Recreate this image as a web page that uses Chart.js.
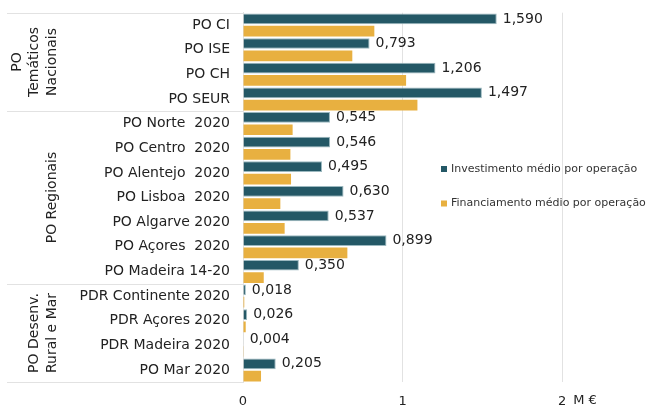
<!DOCTYPE html>
<html><head><meta charset="utf-8">
<script src="https://cdn.jsdelivr.net/npm/chart.js@4.4.1/dist/chart.umd.min.js"></script>
<style>html,body{margin:0;padding:0;background:#fff}#wrap{width:656px;height:406px}</style>
</head><body><div id="wrap"><canvas id="c" width="656" height="406"></canvas></div>
<script>
const categories = ["PO CI","PO ISE","PO CH","PO SEUR","PO Norte  2020","PO Centro  2020","PO Alentejo  2020","PO Lisboa  2020","PO Algarve 2020","PO Açores  2020","PO Madeira 14-20","PDR Continente 2020","PDR Açores 2020","PDR Madeira 2020","PO Mar 2020"];
const investimento = [1.590,0.793,1.206,1.497,0.545,0.546,0.495,0.630,0.537,0.899,0.350,0.018,0.026,0.004,0.205];
const financiamento = [0.823,0.685,1.022,1.093,0.311,0.297,0.301,0.234,0.261,0.654,0.130,0.008,0.017,0.002,0.113];
const seriesNames = ["Investimento médio por operação","Financiamento médio por operação"];
const groups = [
  {lines:["PO","Temáticos","Nacionais"], from:0, to:3},
  {lines:["PO Regionais"], from:4, to:10},
  {lines:["PO Desenv.","Rural e Mar"], from:11, to:14}
];
const xTickValues = [0,1,2];
const unitLabel = "M €";

const FONT = "'DejaVu Sans', sans-serif";
const TEAL = "#245866", GOLD = "#e8b040";

const overlay = {
  id:'overlay',
  afterDatasetsDraw(chart){
    const ctx = chart.ctx, y = chart.scales.y, x = chart.scales.x, ca = chart.chartArea;
    ctx.save();
    const meta = chart.getDatasetMeta(0);
    ctx.font = "14px " + FONT; ctx.fillStyle = "#222"; ctx.textAlign = "left"; ctx.textBaseline = "middle";
    meta.data.forEach((bar,i)=>{
      ctx.fillText(investimento[i].toFixed(3).replace('.',','), bar.x + 6, bar.y);
    });
    ctx.strokeStyle = "#e2e2e2"; ctx.lineWidth = 1;
    const half = (y.getPixelForValue(1) - y.getPixelForValue(0))/2;
    const bounds = [y.getPixelForValue(0)-half];
    groups.forEach(g=>bounds.push(y.getPixelForValue(g.to)+half));
    bounds.forEach(b=>{ctx.beginPath(); ctx.moveTo(7, Math.round(b)+0.5); ctx.lineTo(ca.left, Math.round(b)+0.5); ctx.stroke();});
    ctx.font = "14px " + FONT; ctx.fillStyle = "#222"; ctx.textAlign = "center"; ctx.textBaseline = "middle";
    groups.forEach(g=>{
      const cy = (y.getPixelForValue(g.from)-half + y.getPixelForValue(g.to)+half)/2;
      const n = g.lines.length;
      g.lines.forEach((t,k)=>{
        const cx = 52 - (n-1-k)*17.5;
        ctx.save(); ctx.translate(cx, cy); ctx.rotate(-Math.PI/2); ctx.fillText(t,0,0); ctx.restore();
      });
    });
    ctx.font = "13px " + FONT; ctx.textAlign = "left"; ctx.textBaseline = "middle"; ctx.fillStyle="#222";
    ctx.fillText(unitLabel, x.getPixelForValue(2) + 11, 401);
    ctx.font = "11px " + FONT; ctx.textBaseline = "middle";
    [[TEAL,169],[GOLD,203.5]].forEach((d,i)=>{
      ctx.fillStyle = d[0]; ctx.fillRect(441, d[1]-3, 6, 6);
      ctx.fillStyle = "#333"; ctx.fillText(seriesNames[i], 451, d[1]);
    });
    ctx.restore();
  }
};

new Chart(document.getElementById('c'), {
  type:'bar',
  data:{labels:categories, datasets:[
    {label:seriesNames[0], data:investimento, backgroundColor:TEAL, borderColor:"#9bb8bf", borderWidth:1, borderSkipped:'left'},
    {label:seriesNames[1], data:financiamento, backgroundColor:GOLD, borderWidth:0}
  ]},
  options:{
    indexAxis:'y', responsive:false, animation:false,
    layout:{padding:{top:12.7, right:30, left:0, bottom:0}},
    plugins:{legend:{display:false}, tooltip:{enabled:false}},
    datasets:{bar:{categoryPercentage:1, barPercentage:0.87}},
    scales:{
      x:{min:0, max:2.4,
        afterBuildTicks(s){ s.ticks = xTickValues.map(v=>({value:v})); },
        afterFit(s){ s.height = 23.7; s.paddingLeft = 0; s.paddingRight = 0; },
        ticks:{font:{family:FONT,size:13}, color:"#222", padding:12, maxRotation:0,
          callback:(v)=>String(v)},
        grid:{color:"#e2e2e2", drawTicks:false},
        border:{display:false}
      },
      y:{
        afterFit(s){ s.width = 243; s.paddingTop = 0; s.paddingBottom = 0; },
        ticks:{font:{family:FONT,size:14}, color:"#222", padding:13, autoSkip:false},
        grid:{display:false, drawTicks:false},
        border:{display:true, color:"#e2e2e2"}
      }
    }
  },
  plugins:[overlay]
});
</script></body></html>
